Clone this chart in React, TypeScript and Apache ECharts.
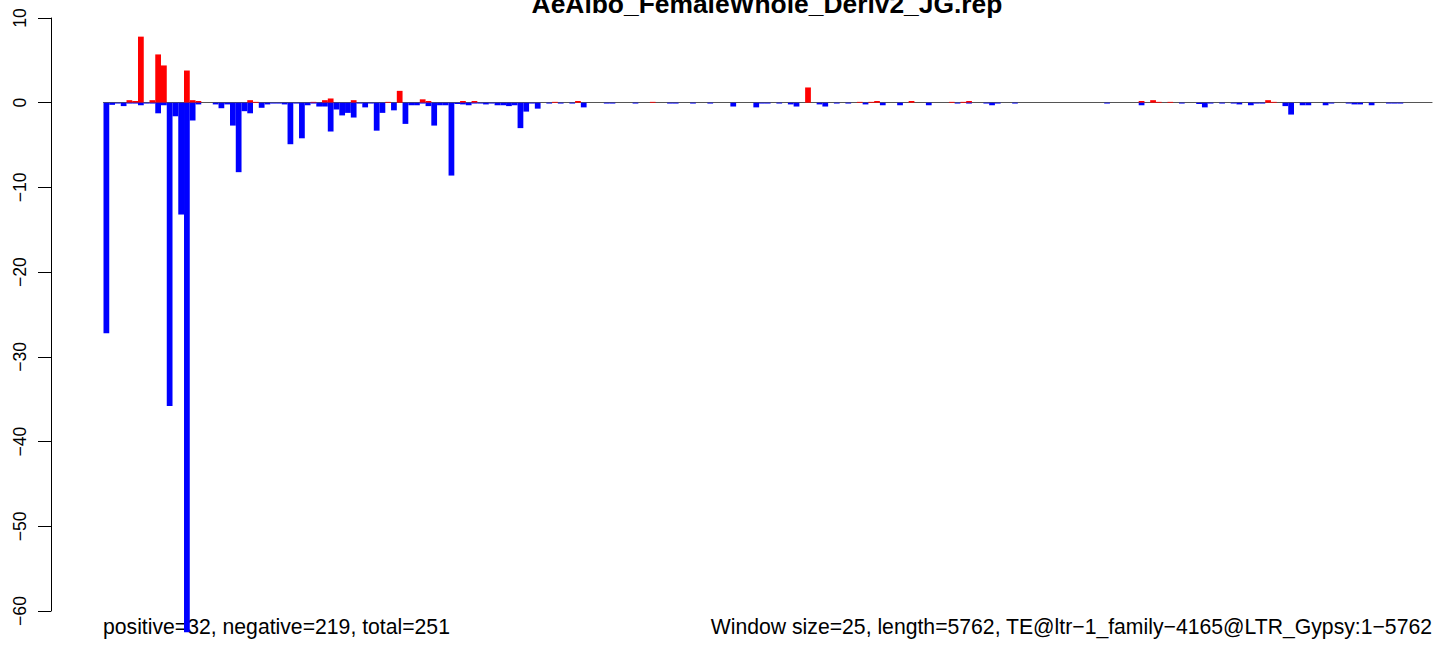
import React, { useEffect, useRef } from "react";
import * as echarts from "echarts";

const TITLE = "AeAlbo_FemaleWhole_Deriv2_JG.rep";
const FOOT_LEFT = "positive=32, negative=219, total=251";
const FOOT_RIGHT = "Window size=25, length=5762, TE@ltr\u22121_family\u22124165@LTR_Gypsy:1\u22125762";

const WINDOW_COUNT = 231;
const windows: string[] = Array.from({ length: WINDOW_COUNT }, (_, i) => String(i + 1));

const yTicks = [10, 0, -10, -20, -30, -40, -50, -60];

// [window index, value] for visible positive (red) bars
const positiveBars: [number, number][] = [
  [4, 0.3], [5, 0.2], [6, 7.8], [8, 0.3], [9, 5.7], [10, 4.4], [14, 3.8], [15, 0.3], [16, 0.2],
  [25, 0.3], [26, 0.1], [36, 0.1], [38, 0.3], [39, 0.5], [43, 0.3], [49, 0.1], [51, 1.4],
  [55, 0.4], [56, 0.2], [62, 0.2], [64, 0.2], [78, 0.1], [82, 0.2], [95, 0.1], [122, 1.8],
  [131, 0.1], [133, 0.1], [134, 0.2], [140, 0.2], [147, 0.1], [149, 0.1], [150, 0.2],
  [180, 0.2], [182, 0.3], [183, 0.1], [185, 0.1], [202, 0.3], [203, 0.1],
];

// [window index, value] for visible negative (blue) bars
const negativeBars: [number, number][] = [
  [0, -27.2], [1, -0.25], [2, -0.1], [3, -0.4], [4, -0.1], [5, -0.1], [6, -0.3], [7, -0.1],
  [8, -0.1], [9, -1.25], [10, -0.3], [11, -35.8], [12, -1.6], [13, -13.2], [14, -62.5],
  [15, -2.1], [16, -0.2], [19, -0.2], [20, -0.65], [21, -0.2], [22, -2.7], [23, -8.2],
  [24, -1.0], [25, -1.25], [27, -0.6], [28, -0.2], [29, -0.1], [30, -0.1], [31, -0.2],
  [32, -4.9], [33, -0.1], [34, -4.2], [35, -0.3], [36, -0.1], [37, -0.45], [38, -0.45],
  [39, -3.4], [40, -0.8], [41, -1.5], [42, -1.2], [43, -1.75], [44, -0.1], [45, -0.55],
  [46, -0.1], [47, -3.3], [48, -1.2], [50, -0.9], [52, -2.5], [53, -0.3], [54, -0.3],
  [55, -0.1], [56, -0.4], [57, -2.7], [58, -0.3], [59, -0.3], [60, -8.6], [61, -0.15],
  [62, -0.2], [63, -0.3], [64, -0.1], [65, -0.1], [66, -0.2], [67, -0.1], [68, -0.3],
  [69, -0.3], [70, -0.4], [71, -0.3], [72, -3.0], [73, -1.05], [74, -0.1], [75, -0.7],
  [77, -0.1], [79, -0.1], [81, -0.1], [83, -0.55], [87, -0.1], [88, -0.1], [92, -0.1],
  [98, -0.1], [99, -0.1], [102, -0.1], [105, -0.1], [109, -0.45], [113, -0.55], [114, -0.1],
  [115, -0.1], [117, -0.1], [119, -0.2], [120, -0.45], [124, -0.2], [125, -0.45], [127, -0.1],
  [129, -0.1], [132, -0.2], [135, -0.3], [138, -0.3], [143, -0.3], [148, -0.1], [150, -0.1],
  [153, -0.1], [154, -0.3], [155, -0.1], [158, -0.1], [174, -0.1], [180, -0.3], [187, -0.1],
  [190, -0.15], [191, -0.55], [192, -0.1], [194, -0.1], [196, -0.1], [197, -0.2], [199, -0.3],
  [200, -0.1], [201, -0.1], [205, -0.4], [206, -1.4], [208, -0.3], [209, -0.3], [212, -0.3],
  [213, -0.1], [216, -0.1], [217, -0.2], [218, -0.2], [220, -0.3], [223, -0.1], [224, -0.1],
  [225, -0.1],
];

function expand(pairs: [number, number][]): (number | null)[] {
  const arr: (number | null)[] = Array.from({ length: WINDOW_COUNT }, () => null);
  pairs.forEach(([i, v]) => {
    arr[i] = v;
  });
  return arr;
}

const FONT = "'Liberation Sans', Arial, Helvetica, sans-serif";

export default function App() {
  const ref = useRef<HTMLDivElement>(null);
  useEffect(() => {
    document.body.style.margin = "0";
    if (!ref.current) return;
    const chart = echarts.init(ref.current, undefined, { renderer: "svg" });
    chart.setOption({
      animation: false,
      backgroundColor: "#ffffff",
      grid: { left: 103.5, right: 12, top: 18, bottom: 35, containLabel: false },
      xAxis: {
        type: "category",
        data: windows,
        axisLine: { show: true, onZero: true, lineStyle: { color: "#555555", width: 1.2 } },
        axisTick: { show: false },
        axisLabel: { show: false },
        splitLine: { show: false },
      },
      yAxis: {
        type: "value",
        min: -60,
        max: 10,
        interval: 10,
        offset: 52.5,
        axisLine: { show: true, lineStyle: { color: "#000000", width: 1 } },
        axisTick: { show: true, length: 13, lineStyle: { color: "#000000", width: 1 } },
        axisLabel: {
          show: true,
          rotate: 90,
          margin: 22,
          color: "#000000",
          fontFamily: FONT,
          fontSize: 17.6,
          formatter: (v: number) => (yTicks.includes(v) ? String(v).replace("-", "\u2212") : ""),
        },
        splitLine: { show: false },
      },
      series: [
        {
          type: "bar",
          name: "positive",
          data: expand(positiveBars),
          barWidth: "100%",
          barGap: "-100%",
          clip: false,
          itemStyle: { color: "#ff0000" },
          z: 3,
        },
        {
          type: "bar",
          name: "negative",
          data: expand(negativeBars),
          barWidth: "100%",
          barGap: "-100%",
          clip: false,
          itemStyle: { color: "#0000ff" },
          z: 3,
        },
      ],
      graphic: [
        {
          type: "text",
          x: 767,
          y: 4,
          z: 0,
          style: {
            text: TITLE,
            fill: "#000000",
            font: `bold 26.4px ${FONT}`,
            align: "center",
            verticalAlign: "middle",
          },
        },
        {
          type: "text",
          x: 103,
          y: 626,
          z: 0,
          style: {
            text: FOOT_LEFT,
            fill: "#000000",
            font: `21.2px ${FONT}`,
            align: "left",
            verticalAlign: "middle",
          },
        },
        {
          type: "text",
          x: 1432,
          y: 626,
          z: 0,
          style: {
            text: FOOT_RIGHT,
            fill: "#000000",
            font: `21.2px ${FONT}`,
            align: "right",
            verticalAlign: "middle",
          },
        },
      ],
    });
    return () => chart.dispose();
  }, []);
  return (
    <div
      ref={ref}
      style={{ position: "fixed", left: 0, top: 0, width: 1444, height: 646, background: "#fff" }}
    />
  );
}
